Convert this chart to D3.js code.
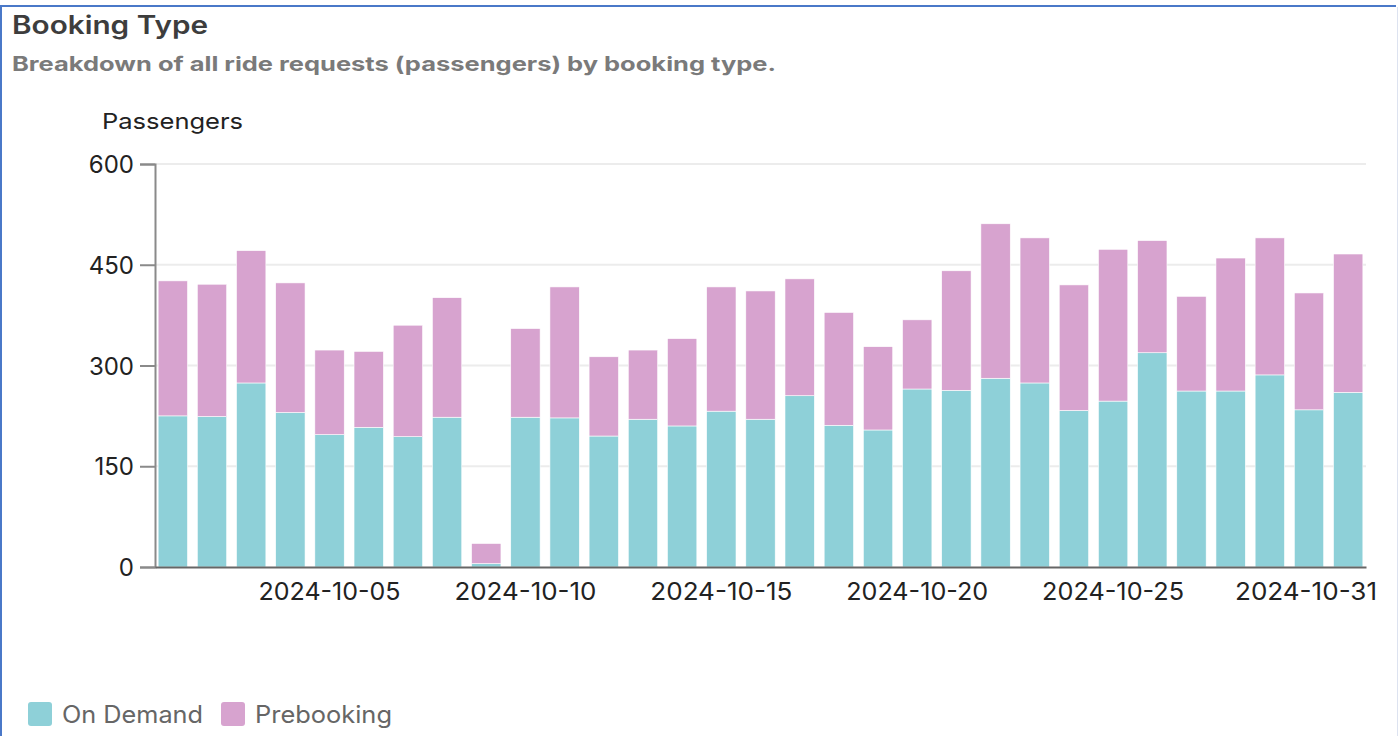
<!DOCTYPE html>
<meta charset="utf-8">
<style>
html, body { margin: 0; padding: 0; background: #fff; }
body { width: 1399px; height: 736px; overflow: hidden; font-family: Inter, Roboto, sans-serif; }
text { font-family: Inter, Roboto, sans-serif; }
</style>
<body>
<script src="https://cdn.jsdelivr.net/npm/d3@7"></script>
<script>

// data
var days = d3.range(1, 32).map(function(d) { return "2024-10-" + (d < 10 ? "0" + d : d); });
var onDemand   = [225,224,274,230,197,208,194,223,5,223,222,195,220,210,232,220,255,211,204,265,263,281,274,233,247,319,262,262,286,234,260];
var prebooking = [201,197,197,193,126,113,166,178,30,132,195,118,103,130,185,191,174,168,124,103,178,230,216,187,226,167,141,198,204,174,206];
var yTicks = [0, 150, 300, 450, 600];
var xTickDays = ["2024-10-05", "2024-10-10", "2024-10-15", "2024-10-20", "2024-10-25", "2024-10-31"];
var seriesNames = ["On Demand", "Prebooking"];
var colors = ["#8ed0d8", "#d7a3cf"];

var W = 1399, H = 736;
var plotL = 155, plotR = 1366, plotT = 164, plotB = 567;

var svg = d3.select("body").append("svg")
    .attr("width", W)
    .attr("height", H);

// frame
svg.append("line").attr("x1", 0).attr("x2", 1396).attr("y1", 6).attr("y2", 6)
    .attr("stroke", "#4a78c8").attr("stroke-width", 2);
svg.append("line").attr("x1", 1).attr("x2", 1).attr("y1", 5).attr("y2", H)
    .attr("stroke", "#4a78c8").attr("stroke-width", 2);
svg.append("line").attr("x1", 1397.5).attr("x2", 1397.5).attr("y1", 7).attr("y2", H)
    .attr("stroke", "#dde3f0").attr("stroke-width", 1);

// titles (widths stretched to the reference)
svg.append("text").attr("x", 12).attr("y", 34)
    .attr("textLength", 196).attr("lengthAdjust", "spacingAndGlyphs")
    .style("font-size", "25px").style("font-weight", 600).style("fill", "#3d3d3d")
    .text("Booking Type");
svg.append("text").attr("x", 12).attr("y", 71)
    .attr("textLength", 764).attr("lengthAdjust", "spacingAndGlyphs")
    .style("font-size", "20px").style("font-weight", 700).style("fill", "#7a7a7a")
    .text("Breakdown of all ride requests (passengers) by booking type.");
svg.append("text").attr("x", 102).attr("y", 129)
    .attr("textLength", 141).attr("lengthAdjust", "spacingAndGlyphs")
    .style("font-size", "22px").style("fill", "#222")
    .text("Passengers");

var x = d3.scaleBand()
    .domain(days)
    .range([plotL, plotR])
    .paddingInner(0.25)
    .paddingOuter(0.08);

var y = d3.scaleLinear()
    .domain([0, 600])
    .range([plotB, plotT]);

// grid
svg.append("g").selectAll("line")
    .data(yTicks.slice(1))
  .enter().append("line")
    .attr("x1", plotL).attr("x2", plotR)
    .attr("y1", function(d) { return y(d); })
    .attr("y2", function(d) { return y(d); })
    .attr("stroke", "#ececec").attr("stroke-width", 2);

// stacked bars
var rows = days.map(function(d, i) { return {day: d, od: onDemand[i], pre: prebooking[i]}; });
var stack = d3.stack().keys(["od", "pre"])(rows);

svg.append("g").selectAll("g")
    .data(stack)
  .enter().append("g")
    .attr("fill", function(d, i) { return colors[i]; })
  .selectAll("rect")
    .data(function(d) { return d; })
  .enter().append("rect")
    .attr("x", function(d) { return x(d.data.day); })
    .attr("y", function(d) { return y(d[1]); })
    .attr("width", x.bandwidth())
    .attr("height", function(d) { return y(d[0]) - y(d[1]); })
    .attr("stroke", "#fff").attr("stroke-width", 0.6);

// y axis
var yAxis = svg.append("g")
    .attr("transform", "translate(" + plotL + ",0)")
    .call(d3.axisLeft(y).tickValues(yTicks).tickSize(15).tickPadding(6));
yAxis.select(".domain").attr("stroke", "#8a8a8a").attr("stroke-width", 2);
yAxis.selectAll(".tick line").attr("stroke", "#8a8a8a").attr("stroke-width", 2);
yAxis.selectAll(".tick text")
    .style("font-size", "24px").style("fill", "#222").attr("dy", "0.36em");

// x axis
var xAxis = svg.append("g")
    .attr("transform", "translate(0," + plotB + ")")
    .call(d3.axisBottom(x).tickValues(xTickDays).tickSize(0).tickPadding(16));
xAxis.select(".domain").attr("stroke", "#666").attr("stroke-width", 2);
xAxis.selectAll(".tick text")
    .attr("textLength", 142).attr("lengthAdjust", "spacingAndGlyphs")
    .style("font-size", "24px").style("fill", "#222")
    .attr("dy", "0.71em");
// keep the last label inside the chart
xAxis.selectAll(".tick").filter(function(d) { return d === "2024-10-31"; })
    .select("text").attr("text-anchor", "end").attr("x", 1377 - x("2024-10-31") - x.bandwidth() / 2);

// legend
var legend = svg.append("g").attr("transform", "translate(28,702)");
var lx = [0, 193], lw = [141, 137];
seriesNames.forEach(function(name, i) {
  var g = legend.append("g").attr("transform", "translate(" + lx[i] + ",0)");
  g.append("rect").attr("width", 24).attr("height", 24).attr("rx", 3)
      .attr("fill", colors[i]);
  g.append("text").attr("x", 34).attr("y", 21)
      .attr("textLength", lw[i]).attr("lengthAdjust", "spacingAndGlyphs")
      .style("font-size", "24px").style("fill", "#666")
      .text(name);
});
</script>
</body>
